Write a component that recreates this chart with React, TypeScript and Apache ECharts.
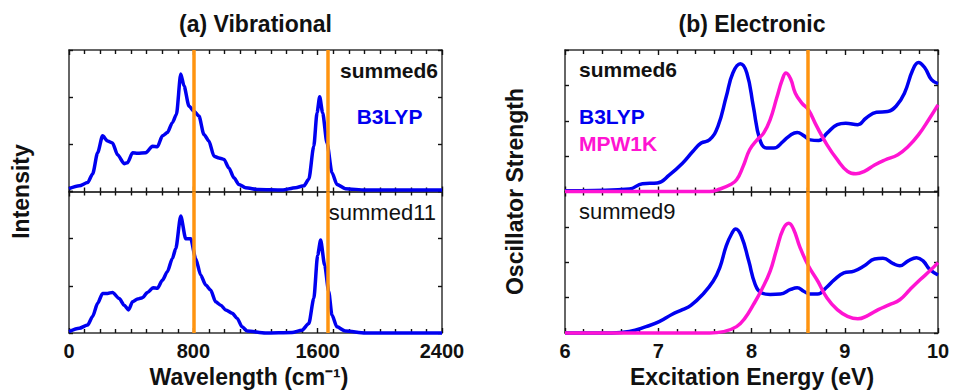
import React, { useEffect, useRef } from "react";
import * as echarts from "echarts";

// ---- Vibrational (cm^-1) ----
const vibX6 = [0, 66, 120, 152, 184, 216, 248, 280, 312, 355, 376, 409, 441, 494, 537, 569, 601, 633, 665, 691, 719, 740, 772, 804, 836, 868, 900, 933, 965, 997, 1029, 1061, 1093, 1136, 1221, 1371, 1457, 1511, 1543, 1575, 1596, 1613, 1632, 1660, 1692, 1724, 1778, 1906, 2400];
const vibY6 = [0.06, 0.12, 0.19, 0.37, 0.82, 1.18, 1.07, 1.03, 0.78, 0.59, 0.61, 0.82, 0.81, 0.82, 0.96, 0.95, 1.18, 1.25, 1.46, 1.63, 2.49, 2.24, 1.81, 1.7, 1.6, 1.21, 1.07, 0.75, 0.71, 0.68, 0.5, 0.29, 0.15, 0.08, 0.04, 0.03, 0.08, 0.12, 0.26, 0.96, 1.67, 2.01, 1.67, 1.03, 0.4, 0.15, 0.06, 0.03, 0.03];
const vibX11 = [0, 66, 120, 152, 184, 216, 248, 280, 323, 355, 383, 409, 441, 473, 505, 541, 569, 601, 633, 665, 687, 719, 751, 783, 815, 847, 879, 911, 944, 976, 1008, 1050, 1082, 1114, 1147, 1264, 1435, 1499, 1543, 1575, 1600, 1619, 1645, 1671, 1692, 1724, 1778, 1906, 2400];
const vibY11 = [0.03, 0.1, 0.17, 0.35, 0.63, 0.84, 0.84, 0.86, 0.73, 0.59, 0.49, 0.66, 0.72, 0.75, 0.86, 0.96, 0.95, 1.12, 1.3, 1.58, 1.79, 2.48, 2.0, 2.0, 1.58, 1.23, 1.02, 0.91, 0.66, 0.59, 0.49, 0.42, 0.31, 0.13, 0.04, 0, 0.01, 0.06, 0.2, 0.73, 1.65, 1.97, 1.44, 0.88, 0.38, 0.13, 0.04, 0, 0];
const vibMarks = [800, 1665];
const vibTicks = [0, 800, 1600, 2400];

// ---- Electronic (eV) ----
const elB3X6 = [6.0, 6.32, 6.69, 6.83, 6.99, 7.12, 7.26, 7.37, 7.46, 7.55, 7.64, 7.73, 7.80, 7.88, 7.95, 8.02, 8.09, 8.16, 8.24, 8.34, 8.42, 8.49, 8.56, 8.63, 8.72, 8.81, 8.92, 9.01, 9.14, 9.23, 9.34, 9.46, 9.55, 9.64, 9.73, 9.79, 9.86, 9.93, 10.0];
const elB3Y6 = [0.02, 0.03, 0.07, 0.22, 0.24, 0.47, 0.8, 1.13, 1.37, 1.46, 1.84, 2.69, 3.35, 3.61, 3.35, 2.4, 1.46, 1.23, 1.23, 1.42, 1.6, 1.67, 1.58, 1.46, 1.44, 1.65, 1.89, 1.93, 1.89, 2.08, 2.24, 2.26, 2.41, 2.78, 3.44, 3.65, 3.49, 3.16, 3.05];
const elMPX6 = [6.0, 7.55, 7.66, 7.77, 7.84, 7.91, 7.98, 8.06, 8.13, 8.20, 8.27, 8.33, 8.37, 8.42, 8.47, 8.54, 8.61, 8.70, 8.81, 8.92, 9.03, 9.12, 9.21, 9.32, 9.43, 9.57, 9.68, 9.79, 9.90, 10.0];
const elMPY6 = [0, 0, 0.07, 0.19, 0.33, 0.71, 1.18, 1.46, 1.65, 2.03, 2.64, 3.16, 3.35, 3.18, 2.78, 2.5, 2.31, 1.84, 1.32, 0.9, 0.57, 0.5, 0.57, 0.75, 0.89, 1.04, 1.27, 1.6, 2.03, 2.45];
const elB3X9 = [6.0, 6.5, 6.69, 6.87, 7.01, 7.15, 7.26, 7.35, 7.48, 7.59, 7.66, 7.73, 7.79, 7.83, 7.89, 7.97, 8.04, 8.11, 8.20, 8.31, 8.42, 8.49, 8.56, 8.63, 8.71, 8.80, 8.89, 8.99, 9.10, 9.21, 9.32, 9.41, 9.52, 9.59, 9.68, 9.77, 9.84, 9.91, 10.0];
const elB3Y9 = [0, 0, 0.04, 0.18, 0.32, 0.53, 0.66, 0.78, 1.1, 1.47, 1.85, 2.47, 2.82, 2.94, 2.75, 2.04, 1.37, 1.13, 1.09, 1.1, 1.23, 1.28, 1.18, 1.1, 1.1, 1.28, 1.51, 1.7, 1.75, 1.9, 2.09, 2.11, 1.96, 1.9, 2.04, 2.13, 2.04, 1.8, 1.64];
const elMPX9 = [6.0, 7.55, 7.70, 7.84, 7.93, 8.02, 8.11, 8.20, 8.27, 8.34, 8.40, 8.45, 8.52, 8.61, 8.71, 8.81, 8.92, 9.03, 9.14, 9.25, 9.36, 9.48, 9.59, 9.70, 9.81, 9.91, 10.0];
const elMPY9 = [0, 0, 0.04, 0.18, 0.42, 0.8, 1.23, 1.75, 2.37, 2.94, 3.1, 2.94, 2.42, 1.9, 1.47, 0.99, 0.66, 0.47, 0.4, 0.5, 0.66, 0.8, 0.94, 1.23, 1.51, 1.75, 1.99];
const elMarks = [8.6];
const elTicks = [6, 7, 8, 9, 10];

const FONT = "'Liberation Sans', Arial, Helvetica, sans-serif";
const BLUE = "#0000f0";
const MAGENTA = "#ff14d2";
const ORANGE = "#ff9410";
const INK = "#111111";

const pairs = (xs: number[], ys: number[]) => xs.map((x, i) => [x, ys[i]]);

export default function App() {
  const ref = useRef<HTMLDivElement>(null);

  useEffect(() => {
    document.body.style.margin = "0";
    if (!ref.current) return;
    const chart = echarts.init(ref.current, undefined, { renderer: "svg" });

    const gridDefs = [
      { left: 69, top: 50, width: 373, height: 141.5 },
      { left: 69, top: 191.5, width: 373, height: 141.5 },
      { left: 565, top: 50, width: 373, height: 141.5 },
      { left: 565, top: 191.5, width: 373, height: 141.5 },
    ];
    const grid = gridDefs.map((g) => ({ ...g, outerBoundsMode: "none", containLabel: false }));

    const axisLine = { show: true, onZero: false, lineStyle: { color: "#333", width: 1.5 } };
    const tickStyle = { color: INK, width: 1.4 };

    const xAxis: any[] = [];
    const yAxis: any[] = [];
    gridDefs.forEach((_, gi) => {
      const vib = gi < 2;
      const ticks = vib ? vibTicks : elTicks;
      const min = ticks[0];
      const max = ticks[ticks.length - 1];
      const interval = ticks[1] - ticks[0];
      const showLabel = gi === 1 || gi === 3;
      ["bottom", "top"].forEach((pos) => {
        xAxis.push({
          type: "value",
          gridIndex: gi,
          position: pos,
          min,
          max,
          interval,
          axisLine,
          axisTick: { show: true, inside: true, length: 5, lineStyle: tickStyle },
          minorTick: { show: true, splitNumber: vib ? 8 : 5, length: 4, lineStyle: tickStyle },
          splitLine: { show: false },
          minorSplitLine: { show: false },
          axisLabel: {
            show: showLabel && pos === "bottom",
            color: INK,
            fontSize: 20,
            fontWeight: "bold",
            fontFamily: FONT,
            margin: 8,
            showMinLabel: true,
            showMaxLabel: true,
            formatter: (v: number) => String(v),
          },
        });
      });
      ["left", "right"].forEach((pos) => {
        yAxis.push({
          type: "value",
          gridIndex: gi,
          position: pos,
          min: 0,
          max: vib ? 3 : 4,
          interval: 1,
          axisLine,
          axisTick: { show: true, inside: true, length: 4, lineStyle: tickStyle },
          splitLine: { show: false },
          axisLabel: { show: false },
        });
      });
    });

    const lineSeries = (gi: number, data: number[][], color: string, smooth: number, mono: boolean, marks?: number[]) => ({
      type: "line",
      xAxisIndex: gi * 2,
      yAxisIndex: gi * 2,
      data,
      symbol: "none",
      smooth,
      smoothMonotone: mono ? "x" : undefined,
      clip: false,
      lineStyle: { color, width: 3.5 },
      z: 3,
      markLine: marks
        ? {
            silent: true,
            symbol: "none",
            label: { show: false },
            lineStyle: { color: ORANGE, width: 3.5, type: "solid" },
            data: marks.map((m) => ({ xAxis: m })),
            z: 6,
          }
        : undefined,
    });

    const series = [
      lineSeries(0, pairs(vibX6, vibY6), BLUE, 0.25, true, vibMarks),
      lineSeries(1, pairs(vibX11, vibY11), BLUE, 0.25, true, vibMarks),
      lineSeries(2, pairs(elB3X6, elB3Y6), BLUE, 0.45, false),
      lineSeries(2, pairs(elMPX6, elMPY6), MAGENTA, 0.45, false, elMarks),
      lineSeries(3, pairs(elB3X9, elB3Y9), BLUE, 0.45, false),
      lineSeries(3, pairs(elMPX9, elMPY9), MAGENTA, 0.45, false, elMarks),
    ];

    const txt = (text: string, x: number, y: number, opts: any = {}) => ({
      type: "text",
      x,
      y,
      rotation: opts.rotation || 0,
      z: 10,
      style: {
        text,
        fill: opts.fill || INK,
        fontSize: opts.fontSize || 23,
        fontWeight: opts.fontWeight || "bold",
        fontFamily: FONT,
        align: opts.align || "center",
        verticalAlign: "middle",
      },
    });

    const graphic = [
      txt("(a) Vibrational", 255.5, 24),
      txt("(b) Electronic", 752, 24),
      txt("Intensity", 21, 191.5, { rotation: Math.PI / 2 }),
      txt("Oscillator Strength", 515, 191.5, { rotation: Math.PI / 2 }),
      txt("Wavelength (cm⁻¹)", 249, 377),
      txt("Excitation Energy (eV)", 752, 377),
      txt("summed6", 438, 70, { fontSize: 21, align: "right" }),
      txt("B3LYP", 389.5, 116, { fontSize: 21, fill: BLUE }),
      txt("summed11", 436, 212, { fontSize: 22, fontWeight: "normal", align: "right" }),
      txt("summed6", 579, 69, { fontSize: 21, align: "left" }),
      txt("B3LYP", 579, 116, { fontSize: 21, fill: BLUE, align: "left" }),
      txt("MPW1K", 579, 143.5, { fontSize: 21, fill: MAGENTA, align: "left" }),
      txt("summed9", 579, 211, { fontSize: 22, fontWeight: "normal", align: "left" }),
    ];

    chart.setOption({
      animation: false,
      backgroundColor: "#ffffff",
      grid,
      xAxis,
      yAxis,
      series,
      graphic,
    });

    return () => chart.dispose();
  }, []);

  return <div ref={ref} style={{ width: 953, height: 392 }} />;
}
